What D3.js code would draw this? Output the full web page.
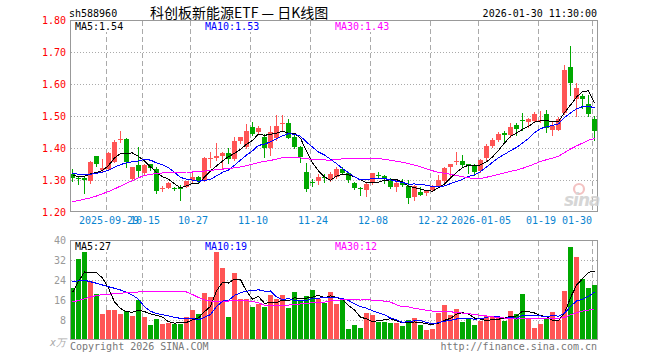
<!DOCTYPE html>
<html>
<head>
<meta charset="utf-8">
<script src="https://cdn.jsdelivr.net/npm/d3@7"></script>
<style>
  body { margin: 0; background: #fff; }
  svg { display: block; }
  text { font-family: "DejaVu Sans Mono", monospace; font-size: 10px; }
</style>
</head>
<body>
<svg id="chart" width="660" height="360"></svg>
<script>
// trading days shown on the chart
const dates = [
  '2025-09-19','2025-09-22','2025-09-23','2025-09-24','2025-09-25','2025-09-26','2025-09-29','2025-09-30',
  '2025-10-09','2025-10-10','2025-10-13','2025-10-14','2025-10-15','2025-10-16','2025-10-17','2025-10-20',
  '2025-10-21','2025-10-22','2025-10-23','2025-10-24','2025-10-27','2025-10-28','2025-10-29','2025-10-30','2025-10-31',
  '2025-11-03','2025-11-04','2025-11-05','2025-11-06','2025-11-07','2025-11-10','2025-11-11','2025-11-12','2025-11-13','2025-11-14',
  '2025-11-17','2025-11-18','2025-11-19','2025-11-20','2025-11-21','2025-11-24','2025-11-25','2025-11-26','2025-11-27','2025-11-28',
  '2025-12-01','2025-12-02','2025-12-03','2025-12-04','2025-12-05','2025-12-08','2025-12-09','2025-12-10','2025-12-11','2025-12-12',
  '2025-12-15','2025-12-16','2025-12-17','2025-12-18','2025-12-19','2025-12-22','2025-12-23','2025-12-24','2025-12-25','2025-12-26',
  '2025-12-29','2025-12-30','2025-12-31',
  '2026-01-05','2026-01-06','2026-01-07','2026-01-08','2026-01-09','2026-01-12','2026-01-13','2026-01-14','2026-01-15','2026-01-16',
  '2026-01-19','2026-01-20','2026-01-21','2026-01-22','2026-01-23','2026-01-26','2026-01-27','2026-01-28','2026-01-29','2026-01-30'
];

const open = [
  1.318,1.307,1.307,1.297,1.375,1.331,1.334,1.357,1.423,1.427,
  1.302,1.347,1.323,1.349,1.334,1.272,1.276,1.275,1.277,1.279,
  1.302,1.308,1.298,1.366,1.370,1.375,1.385,1.365,1.419,1.404,
  1.467,1.451,1.435,1.401,1.433,1.473,1.479,1.433,1.402,1.324,
  1.294,1.298,1.310,1.300,1.308,1.334,1.321,1.292,1.276,1.269,
  1.290,1.316,1.312,1.297,1.279,1.293,1.282,1.246,1.264,1.261,
  1.269,1.281,1.295,1.340,1.355,1.359,1.349,1.344,1.328,1.370,
  1.406,1.425,1.446,1.441,1.472,1.487,1.480,1.485,1.483,1.505,
  1.456,1.458,1.510,1.654,1.553,1.562,1.537,1.491
];
const high = [
  1.333,1.311,1.311,1.360,1.376,1.365,1.389,1.425,1.453,1.430,
  1.341,1.403,1.349,1.350,1.342,1.282,1.293,1.279,1.284,1.298,
  1.326,1.313,1.372,1.389,1.415,1.387,1.399,1.435,1.435,1.474,
  1.482,1.469,1.443,1.469,1.503,1.503,1.492,1.446,1.406,1.352,
  1.302,1.319,1.319,1.326,1.342,1.342,1.326,1.295,1.279,1.292,
  1.323,1.324,1.316,1.305,1.300,1.302,1.300,1.284,1.279,1.269,
  1.284,1.316,1.342,1.350,1.386,1.378,1.350,1.350,1.365,1.413,
  1.430,1.451,1.453,1.477,1.479,1.508,1.493,1.511,1.517,1.519,
  1.482,1.496,1.659,1.719,1.604,1.569,1.566,1.501
];
const low = [
  1.297,1.287,1.259,1.290,1.345,1.326,1.331,1.357,1.420,1.342,
  1.300,1.310,1.316,1.331,1.258,1.267,1.275,1.269,1.237,1.277,
  1.290,1.293,1.296,1.342,1.362,1.336,1.352,1.363,1.415,1.399,
  1.441,1.448,1.373,1.378,1.425,1.456,1.430,1.399,1.357,1.266,
  1.281,1.287,1.295,1.297,1.305,1.319,1.293,1.271,1.253,1.251,
  1.286,1.305,1.290,1.274,1.267,1.281,1.229,1.237,1.253,1.253,
  1.267,1.279,1.290,1.312,1.350,1.342,1.323,1.316,1.326,1.360,
  1.404,1.423,1.423,1.435,1.441,1.456,1.467,1.482,1.480,1.449,
  1.441,1.456,1.506,1.566,1.500,1.524,1.500,1.425
];
const close = [
  1.307,1.305,1.300,1.357,1.350,1.336,1.383,1.419,1.427,1.354,
  1.340,1.329,1.347,1.336,1.264,1.275,1.292,1.273,1.272,1.297,
  1.310,1.295,1.370,1.370,1.375,1.385,1.365,1.422,1.433,1.453,
  1.446,1.464,1.401,1.451,1.469,1.477,1.433,1.402,1.370,1.272,
  1.290,1.310,1.306,1.319,1.334,1.323,1.298,1.276,1.272,1.287,
  1.321,1.312,1.302,1.279,1.292,1.284,1.246,1.281,1.256,1.266,
  1.277,1.300,1.336,1.349,1.359,1.347,1.342,1.326,1.362,1.406,
  1.425,1.444,1.441,1.465,1.459,1.483,1.490,1.506,1.487,1.461,
  1.469,1.492,1.644,1.605,1.586,1.552,1.506,1.453
];
// volume in 10k
const volume = [
  20.9,32.5,39.3,23.6,18.3,10.4,12.0,12.0,10.4,11.6,
  9.6,16.0,9.1,6.0,8.4,6.4,6.7,6.4,6.4,9.1,
  12.0,10.3,18.9,17.1,40.0,28.7,9.1,26.9,16.4,16.3,
  13.1,14.4,13.1,18.0,16.3,18.0,12.9,19.3,16.0,17.6,
  20.0,16.3,14.9,19.3,14.4,16.0,4.4,6.0,4.9,10.9,
  10.0,7.3,7.3,6.9,6.9,5.6,8.0,8.7,6.0,4.0,
  4.4,10.9,14.0,10.0,12.4,7.3,8.3,6.0,7.7,9.6,
  9.1,9.3,7.7,11.6,10.4,18.4,8.7,4.9,6.4,8.3,
  11.3,8.0,19.6,37.3,33.3,24.4,20.9,22.0
];

// moving-average values at the left edge (they depend on days before the window)
const ma5Head = [1.316,1.310,1.312,1.319];
const ma10Head = [1.321,1.318,1.316,1.318,1.321,1.324,1.331,1.340,1.348];
const ma30Head = [1.232,1.236,1.240,1.244,1.250,1.257,1.264,1.272,1.281,1.290,
  1.298,1.307,1.314,1.318,1.320,1.322,1.323,1.324,1.324,1.325,
  1.325,1.326,1.328,1.330,1.332,1.334,1.336,1.338,1.341];
const vma5Head = [19.0,23.5,27.2,27.1];
const vma10Head = [23.3,23.7,23.9,23.3,22.7,22.0,21.3,20.7,20.0];
const vma30Head = [15.2,15.8,16.5,17.2,17.8,18.1,18.3,18.5,18.7,18.9,
  19.0,19.2,19.3,19.4,19.5,19.5,19.5,19.5,19.4,19.2,
  18.2,17.0,16.0,15.6,15.5,15.6,15.6,15.7,15.7];

const priceTicks = [1.2,1.3,1.4,1.5,1.6,1.7,1.8];
const volTicks = [8,16,24,32,40];
const dateTicks = ['2025-09-29','2025-10-15','2025-10-27','2025-11-10','2025-11-24','2025-12-08','2025-12-22','2026-01-05','2026-01-19','2026-01-30'];
const dateLabels = ['2025-09-29','10-15','10-27','11-10','11-24','12-08','12-22','2026-01-05','01-19','01-30'];
const priceLegend = ['MA5:1.54','MA10:1.53','MA30:1.43'];
const volLegend = ['MA5:27','MA10:19','MA30:12'];

const UP = '#ff5555', DOWN = '#00a800';
const MA_COLORS = ['#000000', '#0000ff', '#ff00ff'];
const GRID = '#aaaaaa', FRAME = '#999999';

const svg = d3.select('#chart');
const L = 70, R = 598;
const x = d3.scaleBand().domain(dates).range([L, R]).padding(0);
const cx = d => x(d) + 2.5;
const yP = d3.scaleLinear().domain([1.2, 1.8]).range([212, 20]);
const yV = d3.scaleLinear().domain([0, 40]).range([340, 240]);
const px = v => Math.floor(v) + 0.5;

function movingAvg(arr, n, head) {
  return arr.map((_, i) => i < n - 1 ? head[i] : d3.mean(arr.slice(i - n + 1, i + 1)));
}

svg.append('rect').attr('width', 660).attr('height', 360).attr('fill', '#fff');

const defs = svg.append('defs');
defs.append('clipPath').attr('id', 'clipP').append('rect')
  .attr('x', 70).attr('y', 20).attr('width', 528).attr('height', 192);
defs.append('clipPath').attr('id', 'clipV').append('rect')
  .attr('x', 70).attr('y', 240).attr('width', 528).attr('height', 100);

// ---- grids
function grid(y, ticks, top, bottom) {
  const g = svg.append('g');
  g.selectAll('line.h').data(ticks).join('line')
    .attr('x1', 71).attr('x2', 597)
    .attr('y1', d => px(y(d))).attr('y2', d => px(y(d)))
    .attr('stroke', GRID).attr('stroke-dasharray', '1,2');
  g.selectAll('line.v').data(dateTicks).join('line')
    .attr('x1', d => x(d) + 0.5).attr('x2', d => x(d) + 0.5)
    .attr('y1', top).attr('y2', bottom)
    .attr('stroke', GRID).attr('stroke-dasharray', '5,3');
}
grid(yP, priceTicks.slice(1, -1), 21, 211);
grid(yV, volTicks.slice(0, -1), 241, 339);

// ---- candles
const idx = d3.range(dates.length);
const isUp = i => close[i] >= open[i];
const gC = svg.append('g').attr('clip-path', 'url(#clipP)').attr('shape-rendering', 'crispEdges');
gC.selectAll('line').data(idx).join('line')
  .attr('x1', i => cx(dates[i])).attr('x2', i => cx(dates[i]))
  .attr('y1', i => Math.round(yP(high[i]))).attr('y2', i => Math.round(yP(low[i])) + 1)
  .attr('stroke', i => isUp(i) ? UP : DOWN);
gC.selectAll('rect').data(idx).join('rect')
  .attr('x', i => x(dates[i]))
  .attr('width', x.bandwidth() - 1)
  .attr('y', i => Math.round(yP(Math.max(open[i], close[i]))))
  .attr('height', i => Math.max(1, Math.round(Math.abs(yP(open[i]) - yP(close[i])))))
  .attr('fill', i => isUp(i) ? UP : DOWN);

// ---- volume bars
const gV = svg.append('g').attr('clip-path', 'url(#clipV)').attr('shape-rendering', 'crispEdges');
gV.selectAll('rect').data(idx).join('rect')
  .attr('x', i => x(dates[i]))
  .attr('width', x.bandwidth() - 1)
  .attr('y', i => Math.round(yV(volume[i])))
  .attr('height', i => 340 - Math.round(yV(volume[i])))
  .attr('fill', i => isUp(i) ? UP : DOWN);

// ---- moving averages
const priceMA = [movingAvg(close, 5, ma5Head), movingAvg(close, 10, ma10Head), movingAvg(close, 30, ma30Head)];
const volMA = [movingAvg(volume, 5, vma5Head), movingAvg(volume, 10, vma10Head), movingAvg(volume, 30, vma30Head)];

function maLines(series, y, clip) {
  const line = d3.line().x((d, i) => cx(dates[i])).y(d => y(d));
  svg.append('g').attr('clip-path', clip)
    .selectAll('path').data(series).join('path')
    .attr('d', line)
    .attr('fill', 'none')
    .attr('stroke', (d, k) => MA_COLORS[k])
    .attr('stroke-width', 1)
    .attr('shape-rendering', 'crispEdges');
}
maLines(priceMA, yP, 'url(#clipP)');
maLines(volMA, yV, 'url(#clipV)');

// ---- frames
svg.append('rect').attr('x', 70.5).attr('y', 20.5).attr('width', 527).attr('height', 191)
  .attr('fill', 'none').attr('stroke', FRAME);
svg.append('rect').attr('x', 70.5).attr('y', 240.5).attr('width', 527).attr('height', 99)
  .attr('fill', 'none').attr('stroke', FRAME);

// ---- axes
const axP = svg.append('g').attr('transform', 'translate(70,0)')
  .call(d3.axisLeft(yP).tickValues(priceTicks).tickFormat(d3.format('.2f')).tickSize(0).tickPadding(4));
axP.select('.domain').remove();
axP.selectAll('text').attr('fill', '#ff0000')
  .style('font-family', '"DejaVu Sans Mono", monospace').style('font-size', '10px');

const axV = svg.append('g').attr('transform', 'translate(70,0)')
  .call(d3.axisLeft(yV).tickValues(volTicks).tickSize(0).tickPadding(4));
axV.select('.domain').remove();
axV.selectAll('text').attr('fill', '#999')
  .style('font-family', '"DejaVu Sans Mono", monospace').style('font-size', '10px');
svg.append('text').attr('x', 66).attr('y', 346).attr('text-anchor', 'end')
  .attr('fill', '#aaa').style('font-style', 'italic').text('x万');

const labelOf = d3.scaleOrdinal().domain(dateTicks).range(dateLabels);
const axX = svg.append('g').attr('transform', 'translate(0,212)')
  .call(d3.axisBottom(x).tickValues(dateTicks).tickFormat(labelOf).tickSize(0).tickPadding(5));
axX.select('.domain').remove();
axX.selectAll('text').attr('fill', '#0a84d0')
  .style('font-family', '"DejaVu Sans Mono", monospace').style('font-size', '10px')
  .each(function () {
    const w = this.getComputedTextLength();
    const tx = d3.select(this.parentNode).attr('transform');
    const cxv = +tx.match(/translate\(([-\d.]+)/)[1];
    if (cxv + w / 2 > 592) d3.select(this).attr('dx', 592 - w / 2 - cxv);
  });

// ---- legends (white box behind each, hiding the grid)
const legX = [75, 205, 335];
function legend(items, y) {
  const g = svg.append('g');
  const t = g.selectAll('text').data(items).join('text')
    .attr('x', (d, k) => legX[k]).attr('y', y)
    .attr('fill', (d, k) => MA_COLORS[k]).text(d => d);
  t.each(function () {
    const b = this.getBBox();
    g.insert('rect', 'text').attr('x', b.x - 1).attr('y', b.y)
      .attr('width', b.width + 2).attr('height', b.height).attr('fill', '#fff');
  });
}
legend(priceLegend, 30);
legend(volLegend, 250);

// ---- header and footer
svg.append('text').attr('x', 69).attr('y', 17).attr('fill', '#000').text('sh588960');
svg.append('text').attr('x', 150).attr('y', 18).attr('fill', '#000')
  .style('font-family', '"Noto Sans CJK SC", sans-serif').style('font-size', '14px')
  .text('科创板新能源ETF — 日K线图');
svg.append('text').attr('x', 597).attr('y', 17).attr('text-anchor', 'end').attr('fill', '#000')
  .text('2026-01-30 11:30:00');
svg.append('text').attr('x', 70).attr('y', 350).attr('fill', '#777').text('Copyright 2026 SINA.COM');
svg.append('text').attr('x', 597).attr('y', 350).attr('text-anchor', 'end').attr('fill', '#777')
  .text('http://finance.sina.com.cn');

// ---- sina watermark
const wm = svg.append('g').attr('opacity', 0.85);
wm.append('circle').attr('cx', 579).attr('cy', 189).attr('r', 5)
  .attr('fill', 'none').attr('stroke', '#f2b8b8').attr('stroke-width', 2.2);
wm.append('text').attr('x', 564).attr('y', 206)
  .style('font-family', '"DejaVu Sans", sans-serif').style('font-size', '17px')
  .style('font-style', 'italic').style('font-weight', 'bold').style('letter-spacing', '-1px')
  .attr('fill', '#d0d0d0').text('sina');
</script>
</body>
</html>
